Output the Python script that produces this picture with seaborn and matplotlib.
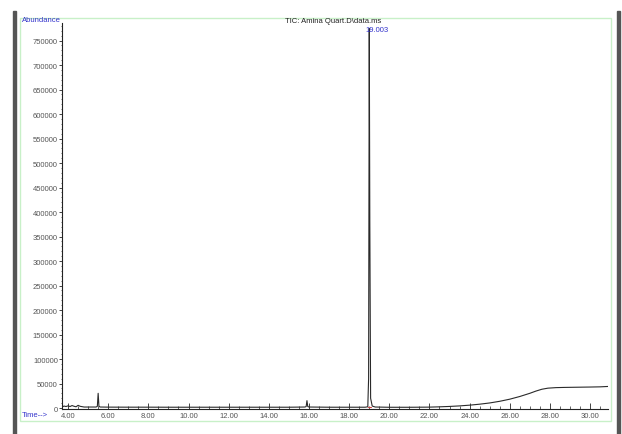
import pandas as pd
import matplotlib.pyplot as plt
import seaborn as sns
from matplotlib.patches import Rectangle
from matplotlib.ticker import MultipleLocator

# -------------------------------
# Chromatogram data
# -------------------------------
time_min = [3.70, 3.80, 3.90, 4.00, 4.10, 4.20, 4.30, 4.40, 4.50, 4.60, 4.80,
            5.00, 5.40, 5.46, 5.50, 5.54, 5.60, 6.00, 7.00, 8.00, 9.00, 10.00,
            11.00, 12.00, 13.00, 14.00, 15.00, 15.80, 15.86, 15.90, 15.94,
            16.00, 17.00, 18.00, 18.80, 18.93, 18.97, 19.003, 19.03, 19.07,
            19.15, 19.30, 20.00, 21.00, 22.00, 22.50, 23.00, 23.50, 24.00,
            24.50, 25.00, 25.50, 26.00, 26.50, 27.00, 27.30, 27.60, 27.90,
            28.30, 28.70, 29.00, 29.50, 30.00, 30.50, 30.90]
abundance = [2000, 4000, 3000, 4500, 3000, 5000, 3500, 2500, 5500, 3500, 2000,
             2000, 2000, 3500, 30000, 3500, 2000, 1800, 1700, 1700, 1600, 1600,
             1600, 1600, 1600, 1600, 1600, 2000, 3000, 15000, 3000,
             2000, 1600, 1600, 1600, 2500, 60000, 775000, 380000, 20000,
             4000, 2000, 1500, 1500, 1800, 2400, 3200, 4300, 5800,
             7800, 10300, 13700, 18000, 23500, 30000, 34500, 38300, 40500,
             41600, 42000, 42200, 42500, 42800, 43200, 44000]

y_ticks = list(range(0, 750001, 50000))
x_ticks = [4, 6, 8, 10, 12, 14, 16, 18, 20, 22, 24, 26, 28, 30]

df = pd.DataFrame({"Time": time_min, "Abundance": abundance})

sns.set_style("white")
plt.rcParams["font.family"] = ["Liberation Sans", "DejaVu Sans"]

fig = plt.figure(figsize=(6.22, 4.35), dpi=100)
ax = fig.add_axes([0.0997, 0.0575, 0.878, 0.8875])

sns.lineplot(data=df, x="Time", y="Abundance", color="#2a2a2a",
             linewidth=0.8, ax=ax, estimator=None, sort=False)

ax.set_xlim(3.7, 30.9)
ax.set_ylim(-2000, 786000)
ax.set_xticks(x_ticks)
ax.set_xticklabels([f"{t:.2f}" for t in x_ticks])
ax.set_yticks(y_ticks)
ax.set_yticklabels([str(v) for v in y_ticks])
ax.xaxis.set_minor_locator(MultipleLocator(0.5))
ax.yaxis.set_minor_locator(MultipleLocator(10000))
ax.tick_params(axis="x", which="major", direction="in", length=4, width=0.6,
               labelsize=5.5, labelcolor="#555555", pad=2, bottom=True)
ax.tick_params(axis="x", which="minor", direction="in", length=2, width=0.5,
               bottom=True)
ax.tick_params(axis="y", which="major", direction="out", length=2, width=0.6,
               labelsize=5.5, labelcolor="#555555", pad=1, left=True)
ax.tick_params(axis="y", which="minor", direction="out", length=1, width=0.5,
               left=True)
ax.set_xlabel("")
ax.set_ylabel("")
for side in ["top", "right"]:
    ax.spines[side].set_visible(False)
for side in ["left", "bottom"]:
    ax.spines[side].set_color("#222222")
    ax.spines[side].set_linewidth(0.8)

# integration marker at peak base
ax.plot([18.93, 19.07], [1500, 1500], color="#d04040", linewidth=0.8)

# labels
fig.text(0.0354, 0.953, "Abundance", color="#3333cc", fontsize=5.5,
         ha="left", va="center")
fig.text(0.0354, 0.044, "Time-->", color="#3333cc", fontsize=5.5,
         ha="left", va="center")
fig.text(0.535, 0.951, "TIC: Amina Quart.D\\data.ms", color="#222222",
         fontsize=5.5, ha="center", va="center")
fig.text(0.606, 0.929, "19.003", color="#3333cc", fontsize=5.5,
         ha="center", va="center")

# page frame
fig.patches.append(Rectangle((0.0322, 0.030), 0.950, 0.926, fill=False,
                             edgecolor="#c8f0c8", linewidth=1.0,
                             transform=fig.transFigure, figure=fig))
fig.patches.append(Rectangle((0.0209, 0.0), 0.0055, 0.972, color="#555555",
                             transform=fig.transFigure, figure=fig))
fig.patches.append(Rectangle((0.9920, 0.0), 0.0055, 0.972, color="#555555",
                             transform=fig.transFigure, figure=fig))

plt.savefig("out.png", dpi=100)
plt.close()
